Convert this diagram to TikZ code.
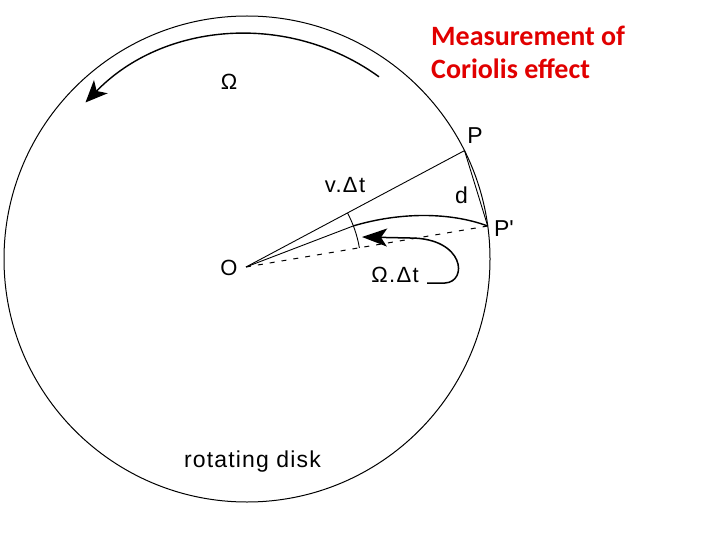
\documentclass[tikz,border=0pt]{standalone}
\usepackage{fontspec}
\setmainfont{Liberation Sans}
\newfontfamily\titlefont{Carlito}
\usetikzlibrary{arrows.meta}
\definecolor{titlered}{RGB}{225,0,0}
\begin{document}
\begin{tikzpicture}[x=1pt,y=-1pt,
  lbl/.style={inner sep=0pt, font=\fontsize{22}{26}\selectfont\addfontfeature{LetterSpace=6}},
  biglbl/.style={inner sep=0pt, font=\fontsize{23}{27}\selectfont},
  title/.style={inner sep=0pt, anchor=base west, text=titlered, font=\titlefont\bfseries\fontsize{28}{33}\selectfont},
  thin line/.style={line width=0.9pt},
  thick line/.style={line width=1.4pt},
  bighead/.style={-{Stealth[length=22pt,width=19pt,inset=6pt]}},
  dashline/.style={line width=1pt, dash pattern=on 5pt off 7pt}]
\useasboundingbox (0,0) rectangle (720,540);
% key points
\coordinate (C) at (247,259);
\coordinate (O) at (246,267);
\coordinate (P) at (464.5,150.6);
\coordinate (P2) at (487.7,226);
\coordinate (Q) at (353.4,225.9);
\coordinate (A1) at (347.5,213);
\coordinate (W1) at (379,76.8);
\coordinate (L1) at (427,283);
\coordinate (L2) at (445,283);
% disk
\draw[line width=1pt] (C) circle[radius=243pt];
% rotation arrow
\draw[thick line, bighead] (W1) arc[start angle=54.1, end angle=135.9, radius=225pt];
% radial lines
\draw[thin line] (O) -- (P);
\draw[thin line] (O) -- (Q);
\draw[dashline] (O) -- (P2);
% chord P-P'
\draw[thin line] (P) -- (P2);
% trajectory Q -> P'
\draw[thick line] (Q) .. controls (400,212) and (450,212) .. (P2);
% angle mark
\draw[thin line] (A1) arc[start angle=28.04, end angle=9.63, radius=115pt];
% leader arrow
\draw[line width=1.5pt, -{Stealth[length=25pt,width=18pt,inset=6pt]}] (L1) -- (L2) .. controls (468,282) and (465,238) .. (410,238) -- (362,237);
% labels
\node[lbl] (omega) at (229,82) {Ω};
\node[biglbl] (pl) at (475,136) {P};
\node[biglbl] (dl) at (461.5,195) {d};
\node[biglbl] (p2l) at (504,229) {P\textquotesingle};
\node[lbl] (ol) at (229,268) {O};
\node[lbl] (vdt) at (345,185) {v.Δt};
\node[lbl] (odt) at (395,275) {Ω.Δt};
\node[inner sep=0pt, anchor=base west, font=\fontsize{23}{27}\selectfont\addfontfeature{LetterSpace=5}] (disk) at (184,467) {rotating disk};
\node[title] (t1) at (431,46) {Measurement of};
\node[title] (t2) at (431,79) {Coriolis effect};
\end{tikzpicture}
\end{document}
